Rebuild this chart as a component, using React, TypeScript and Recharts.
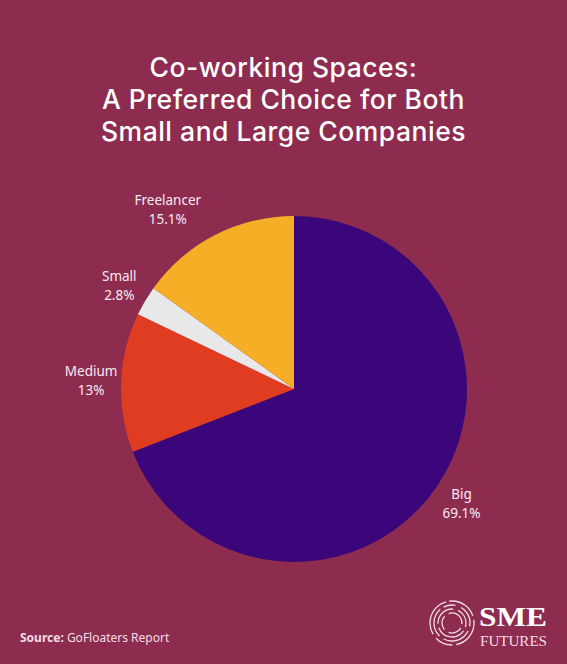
import { Cell, Pie, PieChart } from "recharts";

const BG = "#8E2C50";

const categories = ["Big", "Medium", "Small", "Freelancer"];
const shares = [69.1, 13, 2.8, 15.1];
const labels = ["69.1%", "13%", "2.8%", "15.1%"];
const colors = ["#3A067A", "#E03C21", "#E8E8E8", "#F6AE26"];

const titleLines = [
  "Co-working Spaces:",
  "A Preferred Choice for Both",
  "Small and Large Companies",
];

const data = categories.map((name, i) => ({
  name,
  value: shares[i],
  label: labels[i],
}));

const RAD = Math.PI / 180;

// labels sit just outside the pie; the freelancer one is nudged toward Small in the source
function renderLabel(props: any) {
  const { cx, cy, outerRadius, midAngle, payload, index } = props;
  const nudge = payload.name === "Freelancer" ? 8 : 0;
  const r = outerRadius + (payload.name === "Freelancer" ? 46 : 30);
  const a = midAngle + nudge;
  const x = cx + r * Math.cos(-a * RAD);
  const y = cy + r * Math.sin(-a * RAD);
  return (
    <text
      key={`lbl-${index}`}
      x={x}
      y={y}
      textAnchor="middle"
      fill="#F7EAF0"
      fontFamily="'Noto Sans', sans-serif"
      fontSize={13.5}
    >
      <tspan x={x} dy={-5}>
        {payload.name}
      </tspan>
      <tspan x={x} dy={19}>
        {payload.label}
      </tspan>
    </text>
  );
}

function Logo() {
  const cx = 452;
  const cy = 623;
  const rings = [
    { r: 22, dash: "30 4 18 5 40 3" },
    { r: 18, dash: "22 5 30 4 12 6" },
    { r: 14, dash: "16 4 24 5 20 4" },
    { r: 10, dash: "14 5 20 4" },
  ];
  return (
    <svg
      width={567}
      height={664}
      style={{ position: "absolute", left: 0, top: 0, pointerEvents: "none" }}
    >
      {rings.map((ring, i) => (
        <circle
          key={i}
          cx={cx}
          cy={cy}
          r={ring.r}
          fill="none"
          stroke="#F3DCE5"
          strokeWidth={1.3}
          strokeDasharray={ring.dash}
          transform={`rotate(${i * 47} ${cx} ${cy})`}
        />
      ))}
      <text
        x={479}
        y={626}
        fill="#FFFFFF"
        fontFamily="'Liberation Serif', 'DejaVu Serif', serif"
        fontWeight={700}
        fontSize={28}
        textLength={68}
        lengthAdjust="spacingAndGlyphs"
      >
        SME
      </text>
      <text
        x={480}
        y={646}
        fill="#F3DCE5"
        fontFamily="'Liberation Serif', 'DejaVu Serif', serif"
        fontSize={15}
        textLength={67}
        lengthAdjust="spacingAndGlyphs"
      >
        FUTURES
      </text>
      <text
        x={20}
        y={642}
        fill="#F3DCE5"
        fontFamily="'Noto Sans', sans-serif"
        fontSize={12}
      >
        <tspan fontWeight={700}>Source:</tspan> GoFloaters Report
      </text>
    </svg>
  );
}

export default function App() {
  return (
    <div
      style={{
        position: "absolute",
        left: 0,
        top: 0,
        width: 567,
        height: 664,
        background: BG,
        overflow: "hidden",
      }}
    >
      <div
        style={{
          position: "absolute",
          top: 51,
          left: 0,
          width: 567,
          textAlign: "center",
          color: "#FFFFFF",
          fontFamily: "Inter, sans-serif",
          fontWeight: 500,
          fontSize: 26.5,
          letterSpacing: "0.5px",
          lineHeight: "32px",
        }}
      >
        {titleLines.map((line) => (
          <div key={line}>{line}</div>
        ))}
      </div>
      <div style={{ position: "absolute", left: 0, top: 0 }}>
        <PieChart
          width={567}
          height={664}
          margin={{ top: 0, right: 0, bottom: 0, left: 0 }}
        >
          <Pie
            data={data}
            dataKey="value"
            nameKey="name"
            cx={294}
            cy={389}
            outerRadius={173}
            startAngle={90}
            endAngle={-270}
            stroke="none"
            label={renderLabel}
            labelLine={false}
            isAnimationActive={false}
          >
            {data.map((d, i) => (
              <Cell key={d.name} fill={colors[i]} />
            ))}
          </Pie>
        </PieChart>
      </div>
      <Logo />
    </div>
  );
}
